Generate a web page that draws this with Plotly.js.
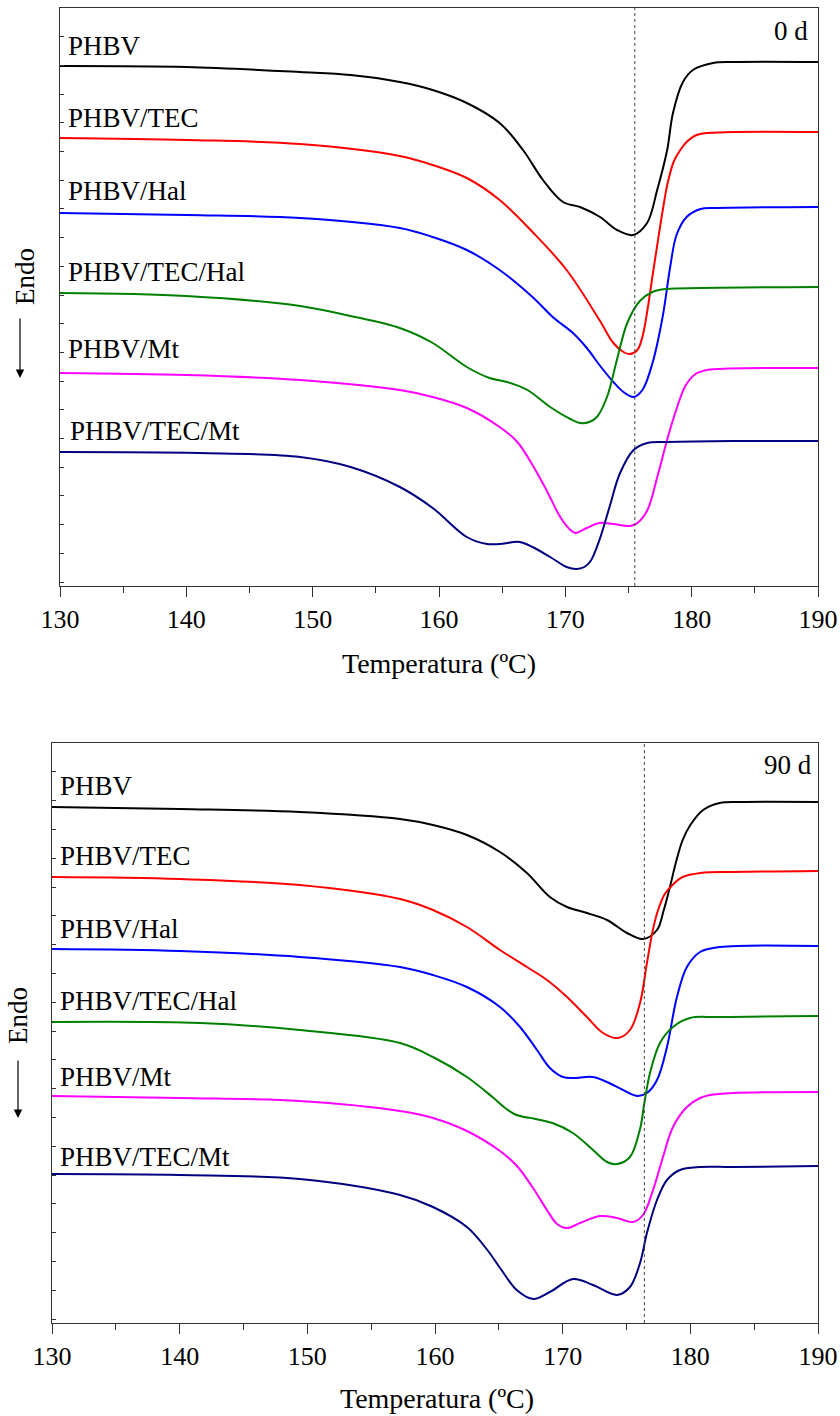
<!DOCTYPE html>
<html>
<head>
<meta charset="utf-8">
<script src="https://cdn.plot.ly/plotly-3.0.1.min.js"></script>
<style>html,body{margin:0;padding:0;background:#fff;}#chart{width:840px;height:1416px;}</style>
</head>
<body>
<div id="chart"></div>
<script>
// ---------- DATA (temperature in ºC, heat flow in arbitrary offset units) ----------
const seriesNames = ["PHBV", "PHBV/TEC", "PHBV/Hal", "PHBV/TEC/Hal", "PHBV/Mt", "PHBV/TEC/Mt"];
const seriesColors = ["#000000", "#ff0000", "#0000ff", "#008000", "#ff00ff", "#000080"];
const panelLabels = ["0 d", "90 d"];
const refTemps = [175.5, 176.4];   // dotted reference lines
const xTickVals = [130, 140, 150, 160, 170, 180, 190];

// ----- 0 d -----
const PHBV_0d_T = [130, 140, 149, 153, 156.9, 159.5, 162.2, 164.8, 166.65, 168.23, 169.82, 171.16, 172.75, 174.09, 175.36, 176.47, 177.27, 178.06, 178.52, 179.31, 180.1, 181.69, 183.27, 190];
const PHBV_0d_Y = [52.0, 51.9, 51.4, 51.1, 50.4, 49.6, 48.3, 46.3, 43.6, 40.6, 38.4, 37.9, 36.9, 35.6, 35.1, 36.3, 39.6, 43.6, 47.3, 50.4, 51.6, 52.3, 52.4, 52.4];

const TEC_0d_T = [130, 140, 149, 156.9, 159.5, 162.2, 164.8, 167.4, 170.1, 172.7, 173.8, 174.6, 175.1, 175.7, 176.1, 176.5, 176.9, 177.3, 177.7, 178.1, 178.6, 179.1, 179.6, 180.4, 182.0, 190];
const TEC_0d_Y = [44.8, 44.6, 44.2, 43.0, 42.1, 40.8, 38.6, 35.4, 31.6, 26.6, 24.3, 23.4, 23.2, 23.6, 24.9, 27.6, 31.0, 34.3, 37.5, 40.3, 42.5, 43.6, 44.4, 45.1, 45.35, 45.4];

const Hal_0d_T = [130, 140, 149, 156.9, 159.5, 162.2, 164.8, 167.4, 169.0, 170.6, 171.7, 172.7, 173.8, 174.6, 175.4, 176.1, 176.9, 177.7, 178.3, 178.8, 179.6, 180.7, 182.0, 190];
const Hal_0d_Y = [37.3, 37.1, 36.8, 35.8, 34.9, 33.6, 31.6, 28.9, 26.9, 25.3, 23.8, 22.1, 20.4, 19.4, 18.9, 19.6, 22.3, 26.9, 31.9, 35.1, 36.9, 37.7, 37.8, 37.9];

const TECHal_0d_T = [130, 140, 149, 153, 156.9, 159.5, 162.2, 164.0, 165.4, 167.0, 168.8, 170.4, 171.2, 171.9, 172.5, 173.3, 174.1, 174.9, 175.9, 176.9, 178.0, 180.7, 190];
const TECHal_0d_Y = [29.3, 29.0, 28.0, 27.0, 25.8, 24.3, 21.9, 20.8, 20.4, 19.6, 17.9, 16.7, 16.3, 16.4, 16.9, 18.9, 22.7, 26.3, 28.5, 29.4, 29.7, 29.8, 29.9];

const Mt_0d_T = [130, 140, 149, 156.9, 159.5, 162.2, 164.8, 166.2, 167.4, 168.5, 169.6, 170.4, 170.8, 171.7, 172.7, 173.8, 175.1, 175.7, 176.5, 177.3, 178.1, 178.8, 179.5, 180.3, 181.2, 183.0, 190];
const Mt_0d_Y = [21.3, 21.1, 20.6, 19.6, 18.9, 17.8, 15.9, 14.4, 12.1, 9.6, 6.9, 5.6, 5.3, 5.8, 6.3, 6.2, 6.0, 6.3, 7.6, 11.0, 14.8, 17.7, 20.0, 21.2, 21.6, 21.75, 21.8];

const TECMt_0d_T = [130, 141, 149, 153, 156.9, 159.5, 162.2, 163.8, 164.8, 166.4, 167.4, 168.8, 170.1, 170.9, 171.5, 172.0, 172.7, 173.5, 174.3, 175.4, 176.5, 178.1, 183.3, 190];
const TECMt_0d_Y = [13.4, 13.3, 12.9, 11.9, 9.9, 7.8, 4.9, 4.2, 4.2, 4.4, 3.9, 2.9, 1.9, 1.7, 1.9, 2.5, 4.6, 7.9, 11.2, 13.6, 14.3, 14.4, 14.5, 14.5];

// ----- 90 d -----
const PHBV_90d_T = [130, 140, 149.4, 157.26, 159.84, 162.5, 165.09, 167.2, 169.0, 170.34, 171.9, 173.47, 175.04, 176.29, 177.39, 177.9, 178.4, 178.9, 179.4, 180.0, 181.0, 182.3, 183.9, 190];
const PHBV_90d_Y = [51.6, 51.4, 51.1, 50.4, 49.8, 48.8, 47.1, 45.0, 42.6, 41.6, 41.0, 40.3, 39.0, 38.4, 39.3, 41.2, 43.6, 46.2, 48.3, 49.8, 51.3, 52.0, 52.1, 52.1];

const TEC_90d_T = [130, 140, 149.4, 157.26, 159.84, 162.5, 165.09, 167.2, 168.77, 170.34, 171.9, 173.16, 174.33, 175.27, 176.06, 176.6, 177.08, 177.5, 178.0, 178.6, 179.4, 180.8, 183.3, 190];
const TEC_90d_Y = [44.6, 44.4, 43.8, 42.4, 41.3, 39.6, 37.3, 35.6, 34.3, 32.6, 30.6, 29.0, 28.5, 29.3, 32.0, 36.0, 39.4, 41.4, 42.9, 43.8, 44.6, 45.0, 45.1, 45.2];

const Hal_90d_T = [130, 140, 149.4, 157.26, 159.84, 162.5, 165.09, 166.66, 167.99, 169.0, 170.03, 170.81, 172.38, 173.47, 174.73, 175.82, 176.6, 177.39, 178.17, 178.95, 179.73, 180.76, 182.32, 190];
const Hal_90d_Y = [37.4, 37.2, 36.6, 35.6, 34.8, 33.6, 31.6, 29.6, 27.3, 25.5, 24.6, 24.5, 24.6, 24.1, 23.3, 22.7, 23.0, 24.3, 27.6, 32.6, 35.6, 37.1, 37.6, 37.7];

const TECHal_90d_T = [130, 141.6, 149.4, 157.26, 159.84, 162.5, 164.5, 165.4, 166.2, 167.0, 167.7, 169.2, 170.8, 172.38, 173.47, 174.26, 175.27, 176.06, 176.4, 176.84, 177.62, 178.64, 179.97, 182.09, 190];
const TECHal_90d_Y = [30.1, 30.0, 29.3, 28.0, 26.6, 24.6, 22.6, 21.6, 20.9, 20.6, 20.45, 20.0, 19.0, 17.3, 16.1, 15.9, 16.6, 19.4, 22.0, 25.0, 28.0, 29.6, 30.5, 30.6, 30.7];

const Mt_90d_T = [130, 140, 149.4, 157.26, 159.84, 162.5, 165.09, 166.42, 167.68, 168.77, 169.56, 170.34, 171.36, 172.92, 174.26, 175.51, 176.29, 177.08, 177.86, 178.64, 179.73, 180.76, 181.54, 183.34, 190];
const Mt_90d_Y = [22.7, 22.5, 22.2, 21.2, 20.5, 19.2, 17.2, 15.7, 13.5, 11.3, 9.9, 9.5, 10.0, 10.7, 10.5, 10.1, 10.8, 13.3, 16.6, 19.6, 21.6, 22.5, 22.8, 23.0, 23.1];

const TECMt_90d_T = [130, 140, 149.4, 157.26, 159.84, 162.5, 164.1, 165.1, 166.4, 167.7, 169.0, 170.81, 172.38, 174.26, 175.27, 176.06, 176.6, 177.39, 178.17, 179.19, 180.76, 183.34, 190];
const TECMt_90d_Y = [14.9, 14.8, 14.4, 12.8, 11.6, 9.6, 7.3, 5.5, 3.3, 2.4, 3.1, 4.4, 3.8, 2.8, 3.6, 6.0, 9.0, 12.3, 14.3, 15.3, 15.6, 15.6, 15.7];

// ---------- BUILD ----------
const W = 840, H = 1416;
const FONT = "Liberation Serif, Times New Roman, Times, serif";
const px = x => x / W;
const py = y => 1 - y / H;

const panel0 = [[PHBV_0d_T, PHBV_0d_Y], [TEC_0d_T, TEC_0d_Y], [Hal_0d_T, Hal_0d_Y], [TECHal_0d_T, TECHal_0d_Y], [Mt_0d_T, Mt_0d_Y], [TECMt_0d_T, TECMt_0d_Y]];
const panel90 = [[PHBV_90d_T, PHBV_90d_Y], [TEC_90d_T, TEC_90d_Y], [Hal_90d_T, Hal_90d_Y], [TECHal_90d_T, TECHal_90d_Y], [Mt_90d_T, Mt_90d_Y], [TECMt_90d_T, TECMt_90d_Y]];

const traces = [];
function addPanel(panel, xa, ya) {
  panel.forEach((d, i) => {
    traces.push({
      x: d[0], y: d[1], xaxis: xa, yaxis: ya, type: 'scatter', mode: 'lines',
      name: seriesNames[i], hoverinfo: 'skip',
      line: {color: seriesColors[i], width: 2, shape: 'spline', smoothing: 1}
    });
  });
}
addPanel(panel0, 'x', 'y');
addPanel(panel90, 'x2', 'y2');

function xAxis(dom, anchor) {
  return {
    domain: dom, anchor: anchor, range: [130, 190], tickvals: xTickVals,
    ticks: 'outside', ticklen: 10, tickwidth: 1, tickcolor: '#333',
    minor: {dtick: 5, tick0: 130, ticks: 'outside', ticklen: 6, tickwidth: 1, tickcolor: '#333', showgrid: false},
    showline: true, mirror: true, linecolor: '#333', linewidth: 1,
    showgrid: false, zeroline: false,
    tickfont: {family: FONT, size: 26, color: '#000'}
  };
}
function yAxis(dom, anchor, top, dt) {
  return {
    domain: dom, anchor: anchor, range: [0, top], tick0: 0.4, dtick: dt,
    ticks: 'inside', ticklen: 4, tickwidth: 1, tickcolor: '#333',
    showticklabels: false, showline: true, mirror: true, linecolor: '#333', linewidth: 1,
    showgrid: false, zeroline: false
  };
}

const annotations = [];
function lab(text, x, y, opts) {
  annotations.push(Object.assign({
    text: text, xref: 'paper', yref: 'paper', x: px(x), y: py(y),
    xanchor: 'left', yanchor: 'middle', showarrow: false,
    font: {family: FONT, size: 27, color: '#000'}
  }, opts || {}));
}
const labY0 = [46, 118, 191, 272, 349, 431];
const labX0 = [66, 66, 66, 66, 66, 68];
const labY90 = [786, 856, 929, 1001, 1077, 1157];
seriesNames.forEach((n, i) => { lab(n, labX0[i], labY0[i]); lab(n, 58, labY90[i]); });
lab(panelLabels[0], 810, 31, {xanchor: 'right'});
lab(panelLabels[1], 814, 765, {xanchor: 'right'});
lab('Temperatura (ºC)', 439, 663, {xanchor: 'center', font: {family: FONT, size: 28, color: '#000'}});
lab('Temperatura (ºC)', 437, 1398, {xanchor: 'center', font: {family: FONT, size: 28, color: '#000'}});
lab('Endo', 25, 277, {xanchor: 'center', textangle: -90});
lab('Endo', 18, 1016, {xanchor: 'center', textangle: -90});
// arrows
[[20, 317, 378], [18, 1059, 1118]].forEach(a => {
  annotations.push({xref: 'paper', yref: 'paper', x: px(a[0]), y: py(a[2]), ax: 0, ay: -(a[2] - a[1]),
    text: '', showarrow: true, arrowhead: 2, arrowsize: 1.4, arrowwidth: 1.2, arrowcolor: '#000'});
});

const shapes = [
  {type: 'line', xref: 'x', yref: 'y domain', x0: refTemps[0], x1: refTemps[0], y0: 0, y1: 1, line: {color: '#444', width: 1, dash: 'dot'}},
  {type: 'line', xref: 'x2', yref: 'y2 domain', x0: refTemps[1], x1: refTemps[1], y0: 0, y1: 1, line: {color: '#444', width: 1, dash: 'dot'}}
];

const layout = {
  width: W, height: H, margin: {l: 0, r: 0, t: 0, b: 0},
  paper_bgcolor: '#fff', plot_bgcolor: '#fff', showlegend: false,
  xaxis: xAxis([px(60), px(818)], 'y'),
  yaxis: yAxis([py(586), py(8)], 'x', 57.8, 2.87),
  xaxis2: xAxis([px(52), px(818)], 'y2'),
  yaxis2: yAxis([py(1323), py(743)], 'x2', 58.0, 2.88),
  annotations: annotations, shapes: shapes,
  font: {family: FONT, color: '#000'}
};
Plotly.newPlot('chart', traces, layout, {staticPlot: true, displayModeBar: false});
</script>
</body>
</html>
